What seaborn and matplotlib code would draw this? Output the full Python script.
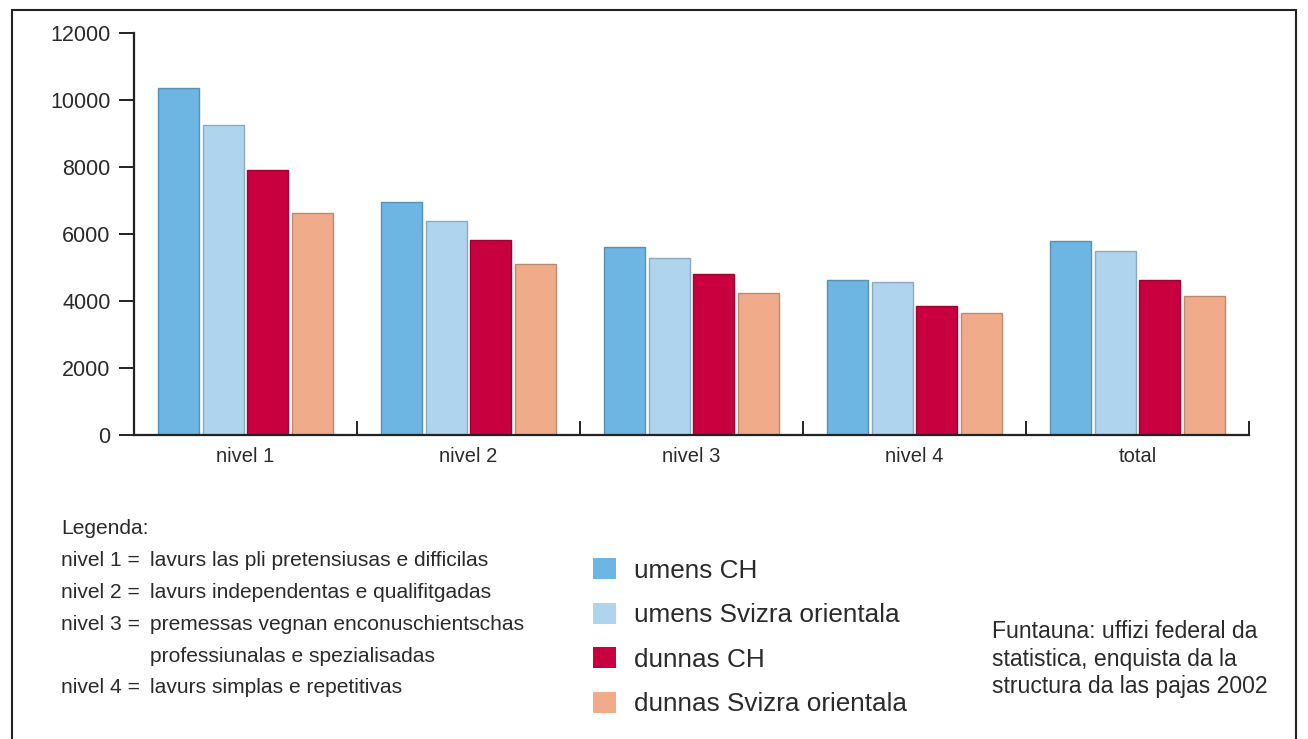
import matplotlib
matplotlib.use("Agg")
import matplotlib.pyplot as plt
import matplotlib.colors as mcolors
from matplotlib.patches import Patch, Rectangle
from matplotlib.ticker import FixedLocator
import seaborn as sns
import pandas as pd

categories = ["nivel 1", "nivel 2", "nivel 3", "nivel 4", "total"]
series = ["umens CH", "umens Svizra orientala", "dunnas CH", "dunnas Svizra orientala"]
umens_ch = [10350, 6950, 5600, 4630, 5800]
umens_ost = [9250, 6400, 5280, 4570, 5500]
dunnas_ch = [7900, 5820, 4800, 3850, 4630]
dunnas_ost = [6630, 5100, 4240, 3640, 4150]
yticks = [0, 2000, 4000, 6000, 8000, 10000, 12000]
colors = ["#6db5e2", "#afd4ee", "#c8003f", "#efab8a"]

legend_left = ["nivel 1 =", "nivel 2 =", "nivel 3 =", "", "nivel 4 ="]
legend_right = ["lavurs las pli pretensiusas e difficilas",
                "lavurs independentas e qualifitgadas",
                "premessas vegnan enconuschientschas",
                "professiunalas e spezialisadas",
                "lavurs simplas e repetitivas"]
source_lines = ["Funtauna: uffizi federal da",
                "statistica, enquista da la",
                "structura da las pajas 2002"]

rows = []
for s, vals in zip(series, [umens_ch, umens_ost, dunnas_ch, dunnas_ost]):
    for c, v in zip(categories, vals):
        rows.append({"cat": c, "val": v, "series": s})
df = pd.DataFrame(rows)

sns.set_theme(style="white")
plt.rcParams["font.family"] = ["Liberation Sans", "DejaVu Sans"]
txt = "#2a2a2a"
W, H = 1308, 739

fig = plt.figure(figsize=(W/100, H/100), dpi=100)
ax = fig.add_axes([134/W, 1-435/H, (1249-134)/W, (435-33)/H])

sns.barplot(data=df, x="cat", y="val", hue="series", palette=colors,
            hue_order=series, order=categories, width=0.8, gap=0.08,
            legend=False, ax=ax, saturation=1)
for p in ax.patches:
    fc = mcolors.to_rgb(p.get_facecolor())
    p.set_edgecolor(tuple(c * 0.8 for c in fc))
    p.set_linewidth(1.0)

ax.set_xlim(-0.5, 4.5)
ax.set_ylim(0, 12000)
ax.set_yticks(yticks)
ax.set_yticklabels([str(t) for t in yticks])
ax.set_xlabel("")
ax.set_ylabel("")
for side in ["top", "right"]:
    ax.spines[side].set_visible(False)
for side in ["left", "bottom"]:
    ax.spines[side].set_color("#222222")
    ax.spines[side].set_linewidth(1.6)
ax.tick_params(axis="y", direction="out", length=11, width=1.4, color="#222222",
               labelsize=15.5, labelcolor=txt, pad=6, left=True)
ax.tick_params(axis="x", which="major", length=0, labelsize=14.5, labelcolor=txt, pad=9)
ax.xaxis.set_minor_locator(FixedLocator([0.5, 1.5, 2.5, 3.5, 4.5]))
ax.tick_params(axis="x", which="minor", direction="in", length=10, width=1.4,
               color="#222222", bottom=True)

# description block
fs_desc = 15.1
fig.text(61/W, 1-529/H, "Legenda:", fontsize=fs_desc, color=txt, va="center")
for i, (l, r) in enumerate(zip(legend_left, legend_right)):
    yy = 1-(561 + i*31.7)/H
    if l:
        fig.text(61/W, yy, l, fontsize=fs_desc, color=txt, va="center")
    fig.text(150/W, yy, r, fontsize=fs_desc, color=txt, va="center")

handles = [Patch(facecolor=c, edgecolor="none") for c in colors]
fs_leg = 18.8
em = fs_leg * 1.389
fig.legend(handles, series, loc="upper left", bbox_to_anchor=(593/W, 1-558/H),
           frameon=False, fontsize=fs_leg, handlelength=23/em,
           handleheight=23/em,
           handletextpad=18/em, labelspacing=0.76, borderpad=0,
           borderaxespad=0, labelcolor=txt)

for i, line in enumerate(source_lines):
    fig.text(992/W, 1-(632 + i*27.5)/H, line, fontsize=16.6, color=txt, va="center")

fig.patches.append(Rectangle((12/W, -0.05), (1296-12)/W, 1.05-10/H,
                             transform=fig.transFigure, fill=False,
                             edgecolor="#222222", linewidth=1.5))

fig.savefig("out.png", dpi=100)
